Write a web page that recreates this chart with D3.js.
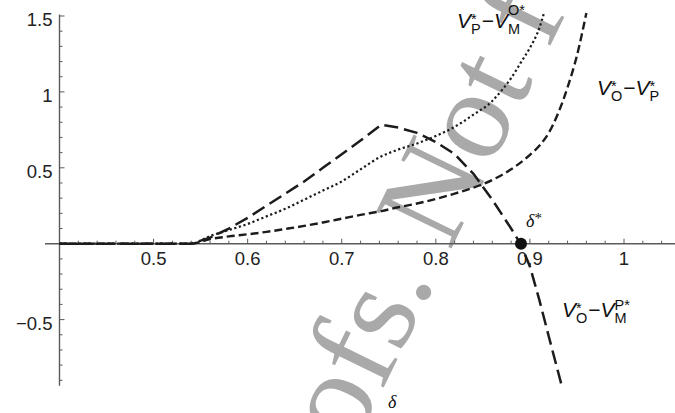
<!DOCTYPE html>
<html><head><meta charset="utf-8">
<script src="https://cdn.jsdelivr.net/npm/d3@7"></script>
<style>body{margin:0;background:#fff}svg{display:block}</style>
</head><body><svg id="c" width="675" height="413"></svg>
<script>
// ---- data ----
const xLong  = [0.40, 0.54, 0.56, 0.58, 0.60, 0.62, 0.64, 0.66, 0.68, 0.70, 0.72, 0.742, 0.76, 0.78, 0.80, 0.82, 0.84, 0.86, 0.88, 0.89, 0.90, 0.91, 0.92, 0.934];
const yLong  = [0, 0, 0.04, 0.10, 0.17, 0.25, 0.33, 0.41, 0.50, 0.59, 0.68, 0.783, 0.765, 0.73, 0.67, 0.59, 0.46, 0.29, 0.10, 0.0, -0.15, -0.37, -0.61, -0.94];
const xDot   = [0.40, 0.54, 0.56, 0.58, 0.60, 0.62, 0.64, 0.66, 0.68, 0.70, 0.72, 0.742, 0.76, 0.78, 0.80, 0.82, 0.84, 0.86, 0.87, 0.88, 0.89, 0.90, 0.91, 0.915];
const yDot   = [0, 0, 0.05, 0.09, 0.13, 0.18, 0.23, 0.29, 0.35, 0.41, 0.49, 0.575, 0.62, 0.66, 0.71, 0.77, 0.85, 0.94, 1.01, 1.09, 1.19, 1.29, 1.42, 1.52];
const xShort = [0.40, 0.54, 0.56, 0.58, 0.60, 0.62, 0.64, 0.66, 0.68, 0.70, 0.72, 0.742, 0.76, 0.78, 0.80, 0.82, 0.84, 0.86, 0.88, 0.90, 0.91, 0.92, 0.93, 0.94, 0.95, 0.96];
const yShort = [0, 0, 0.03, 0.048, 0.062, 0.078, 0.097, 0.117, 0.14, 0.165, 0.19, 0.215, 0.24, 0.265, 0.295, 0.33, 0.37, 0.42, 0.49, 0.585, 0.645, 0.73, 0.86, 1.03, 1.24, 1.52];
const deltaStar = 0.8905;
const xMajorTicks = [0.5, 0.6, 0.7, 0.8, 0.9, 1.0];
const xTickLabels = ["0.5", "0.6", "0.7", "0.8", "0.9", "1"];
const yMajorTicks = [-0.5, 0.5, 1.0, 1.5];
const yTickLabels = ["\u22120.5", "0.5", "1", "1.5"];

// ---- scales ----
const svg = d3.select("#c");
const x = d3.scaleLinear().domain([0.4, 1.0]).range([59.5, 624]);
const y = d3.scaleLinear().domain([0, 1.5]).range([243.7, 16]);
const ink = "#1c1c1c";

// ---- watermark ----
const WM = 128;
const wm = svg.append("g").attr("transform", "translate(423,292) rotate(-64)");
const wmText = "Uncorrected proofs. Not for distribution";
const wmEl = wm.append("text").attr("font-family", "'Liberation Serif', 'Times New Roman', serif")
  .attr("font-size", WM).attr("fill", "#a9a9a9").text(wmText);
const preLen = wmEl.node().getSubStringLength(0, "Uncorrected proofs".length);
wmEl.attr("x", -(preLen + 0.125 * WM)).attr("y", 0.05 * WM);

// ---- axes ----
const axisCol = "#5a5a5a";
const ax = svg.append("g");
ax.append("line").attr("x1", 45).attr("x2", 675).attr("y1", y(0)).attr("y2", y(0))
  .attr("stroke", axisCol).attr("stroke-width", 1.4);
ax.append("line").attr("x1", x(0.4)).attr("x2", x(0.4)).attr("y1", y(1.51)).attr("y2", y(-0.935))
  .attr("stroke", axisCol).attr("stroke-width", 1.4);

const xMinor = d3.range(0.42, 1.045, 0.02).filter(v => !xMajorTicks.some(m => Math.abs(m - v) < 1e-6));
ax.selectAll(".xmin").data(xMinor).join("line")
  .attr("x1", d => x(d)).attr("x2", d => x(d)).attr("y1", y(0)).attr("y2", y(0) - 3)
  .attr("stroke", axisCol).attr("stroke-width", 1);
ax.selectAll(".xmaj").data(xMajorTicks).join("line")
  .attr("x1", d => x(d)).attr("x2", d => x(d)).attr("y1", y(0)).attr("y2", y(0) - 5)
  .attr("stroke", axisCol).attr("stroke-width", 1);
const yMinor = d3.range(-0.9, 1.55, 0.1).filter(v => Math.abs(v) > 1e-6 && !yMajorTicks.some(m => Math.abs(m - v) < 1e-6));
ax.selectAll(".ymin").data(yMinor).join("line")
  .attr("x1", x(0.4)).attr("x2", x(0.4) + 3).attr("y1", d => y(d)).attr("y2", d => y(d))
  .attr("stroke", axisCol).attr("stroke-width", 1);
ax.selectAll(".ymaj").data(yMajorTicks).join("line")
  .attr("x1", x(0.4)).attr("x2", x(0.4) + 5).attr("y1", d => y(d)).attr("y2", d => y(d))
  .attr("stroke", axisCol).attr("stroke-width", 1);

const tickFont = "'Liberation Sans', Arial, Helvetica, sans-serif";
ax.selectAll(".xl").data(xMajorTicks).join("text")
  .attr("x", d => x(d)).attr("y", y(0) + 21.5).attr("text-anchor", "middle")
  .attr("font-family", tickFont).attr("font-size", 18.5).attr("fill", "#222")
  .text((d, i) => xTickLabels[i]);
ax.selectAll(".yl").data(yMajorTicks).join("text")
  .attr("x", 52.5).attr("y", d => y(d) + 10).attr("text-anchor", "end")
  .attr("font-family", tickFont).attr("font-size", 18.5).attr("fill", "#222")
  .text((d, i) => yTickLabels[i]);

// ---- curves ----
function series(xs, ys) { return xs.map((v, i) => [v, ys[i]]); }
const lineLin = d3.line().x(d => x(d[0])).y(d => y(d[1])).curve(d3.curveLinear);
const lineMono = d3.line().x(d => x(d[0])).y(d => y(d[1])).curve(d3.curveMonotoneX);

svg.append("path").attr("d", lineMono(series(xShort, yShort)))
  .attr("fill", "none").attr("stroke", ink).attr("stroke-width", 2.4).attr("stroke-dasharray", "8,4");
svg.append("path").attr("d", lineMono(series(xDot, yDot)))
  .attr("fill", "none").attr("stroke", ink).attr("stroke-width", 2.2).attr("stroke-dasharray", "2.2,2.6");
svg.append("path").attr("d", lineLin(series(xLong, yLong)))
  .attr("fill", "none").attr("stroke", ink).attr("stroke-width", 2.5).attr("stroke-dasharray", "14,6");

// ---- equilibrium point ----
svg.append("circle").attr("cx", x(deltaStar)).attr("cy", y(0)).attr("r", 6).attr("fill", "#111");

// ---- labels ----
const MAIN = 21, SCRIPT = 14.5, SUBDROP = 5.5;
function mathLabel(x0, y0, parts) {
  const g = svg.append("g").attr("font-family", tickFont).attr("fill", "#111");
  let cx = x0;
  parts.forEach(p => {
    if (p.t) {
      const e = g.append("text").attr("x", cx).attr("y", y0).attr("font-size", MAIN)
        .attr("font-style", p.it ? "italic" : "normal").text(p.t);
      cx += e.node().getComputedTextLength() + (p.gap || 0);
    } else {
      let w = 0;
      if (p.sub) {
        const e = g.append("text").attr("x", cx).attr("y", y0 + SUBDROP).attr("font-size", SCRIPT).text(p.sub);
        w = Math.max(w, e.node().getComputedTextLength());
      }
      if (p.sup) {
        const e = g.append("text").attr("x", cx).attr("y", y0 - p.raise).attr("font-size", SCRIPT).text(p.sup);
        w = Math.max(w, e.node().getComputedTextLength());
      }
      cx += w + 1;
    }
  });
}
mathLabel(457, 28, [{t: "V", it: true}, {sub: "P", sup: "*", raise: 4.5}, {t: "\u2212"}, {t: "V", it: true}, {sub: "M", sup: "O*", raise: 13}]);
mathLabel(597, 95, [{t: "V", it: true}, {sub: "O", sup: "*", raise: 4.5}, {t: "\u2212"}, {t: "V", it: true}, {sub: "P", sup: "*", raise: 4.5}]);
mathLabel(562, 317, [{t: "V", it: true}, {sub: "O", sup: "*", raise: 4.5}, {t: "\u2212"}, {t: "V", it: true}, {sub: "M", sup: "P*", raise: 7.5}]);

const serif = "'Liberation Serif', 'Times New Roman', serif";
const ds = svg.append("text").attr("x", 526).attr("y", 227).attr("font-family", serif)
  .attr("font-size", 18).attr("fill", "#111");
ds.append("tspan").attr("font-style", "italic").text("\u03b4");
ds.append("tspan").attr("dy", -4).attr("font-size", 15).text("*");
svg.append("text").attr("x", 388).attr("y", 408).attr("font-family", serif).attr("font-style", "italic")
  .attr("font-size", 18).attr("fill", "#111").text("\u03b4");
</script>
</body></html>
